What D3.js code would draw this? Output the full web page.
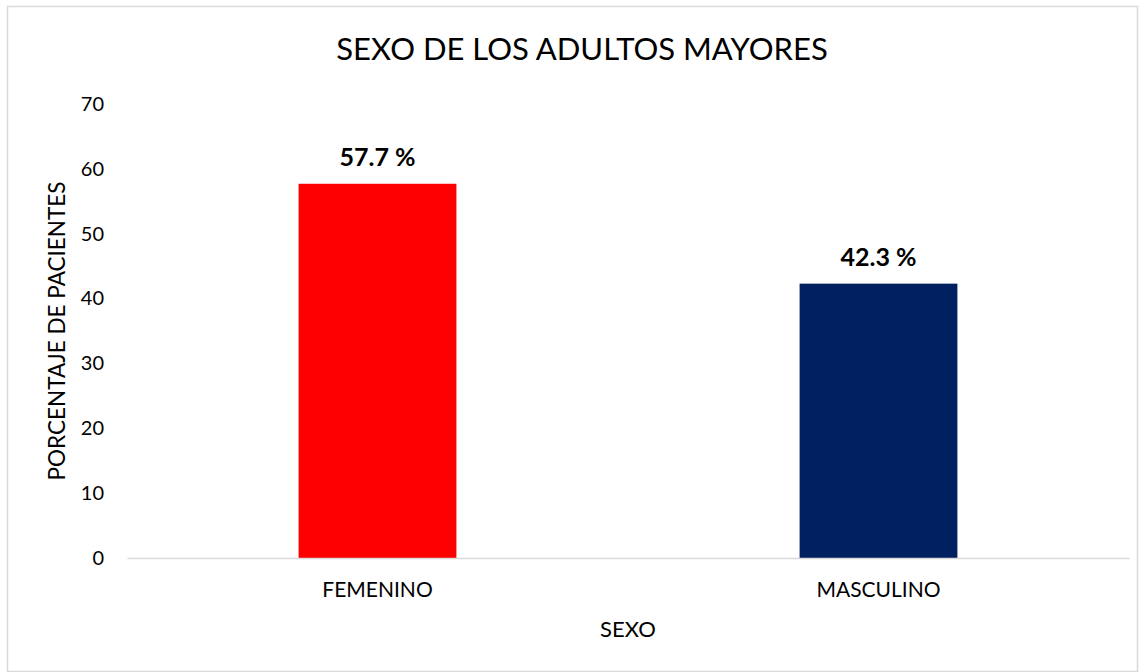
<!DOCTYPE html>
<html>
<head>
<meta charset="utf-8">
<script src="https://cdn.jsdelivr.net/npm/d3@7"></script>
<style>
  body { margin: 0; background: #fff; }
  svg { font-family: Lato, "Open Sans", sans-serif; }
</style>
</head>
<body>
<svg id="chart" width="1145" height="672"></svg>
<script>
const categories = ["FEMENINO", "MASCULINO"];
const values = [57.7, 42.3];
const labels = ["57.7 %", "42.3 %"];
const barColors = ["#ff0000", "#002060"];
const yTicks = [0, 10, 20, 30, 40, 50, 60, 70];

const svg = d3.select("#chart");
const margin = { top: 104, right: 16, bottom: 114, left: 127 };
const width = 1145 - margin.left - margin.right;
const height = 672 - margin.top - margin.bottom;

// marco exterior
svg.append("rect")
    .attr("x", 7.5).attr("y", 6.5)
    .attr("width", 1145 - 15).attr("height", 672 - 7)
    .attr("fill", "#fff")
    .attr("stroke", "#d9d9d9")
    .attr("stroke-width", 1.5);

const g = svg.append("g")
    .attr("transform", "translate(" + margin.left + "," + margin.top + ")");

const x = d3.scaleBand()
    .domain(categories)
    .range([0, width])
    .paddingInner(0.685)
    .paddingOuter(0.3425);

const y = d3.scaleLinear()
    .domain([0, 70])
    .range([height, 0]);

// eje y (solo etiquetas)
const yAxis = g.append("g")
    .call(d3.axisLeft(y).tickValues(yTicks).tickSize(0).tickPadding(23));
yAxis.select(".domain").remove();
yAxis.selectAll("text")
    .attr("font-size", 20)
    .attr("font-family", "Lato, sans-serif")
    .attr("fill", "#000");

// barras
g.selectAll(".bar")
    .data(values)
    .enter().append("rect")
    .attr("class", "bar")
    .attr("x", (d, i) => x(categories[i]))
    .attr("y", d => y(d))
    .attr("width", x.bandwidth())
    .attr("height", d => height - y(d))
    .attr("fill", (d, i) => barColors[i]);

// eje x
const xAxis = g.append("g")
    .attr("transform", "translate(0," + height + ")")
    .call(d3.axisBottom(x).tickSize(0));
xAxis.select(".domain")
    .attr("stroke", "#d9d9d9")
    .attr("stroke-width", 1.5);
xAxis.selectAll("text")
    .attr("y", 39)
    .attr("dy", 0)
    .attr("font-size", 21)
    .attr("font-family", "Lato, sans-serif")
    .attr("fill", "#000");

// etiquetas de datos
g.selectAll(".lbl")
    .data(values)
    .enter().append("text")
    .attr("class", "lbl")
    .attr("x", (d, i) => x(categories[i]) + x.bandwidth() / 2)
    .attr("y", d => y(d) - 18)
    .attr("text-anchor", "middle")
    .attr("font-size", 25)
    .attr("font-weight", "bold")
    .text((d, i) => labels[i]);

// titulo
svg.append("text")
    .attr("x", 582)
    .attr("y", 60)
    .attr("text-anchor", "middle")
    .attr("font-size", 31)
    .text("SEXO DE LOS ADULTOS MAYORES");

// titulos de ejes
svg.append("text")
    .attr("x", margin.left + width / 2)
    .attr("y", 637)
    .attr("text-anchor", "middle")
    .attr("font-size", 22)
    .text("SEXO");

svg.append("text")
    .attr("transform", "translate(65," + (margin.top + height / 2) + ") rotate(-90)")
    .attr("text-anchor", "middle")
    .attr("font-size", 22.5)
    .text("PORCENTAJE DE PACIENTES");
</script>
</body>
</html>
